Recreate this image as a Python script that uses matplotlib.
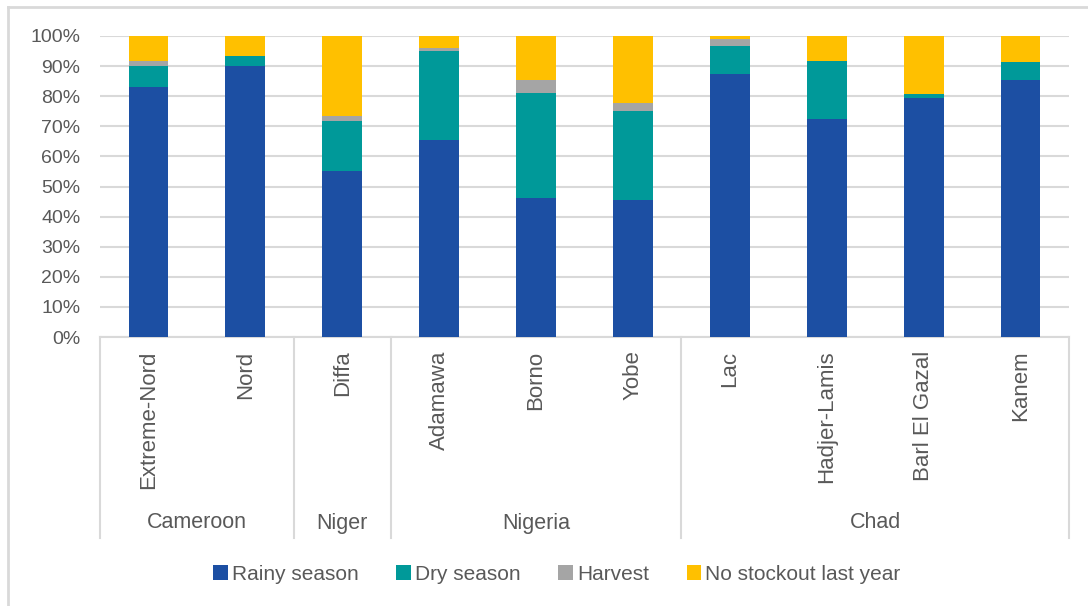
import matplotlib
matplotlib.use("Agg")
import matplotlib.pyplot as plt
from matplotlib.patches import Patch
from matplotlib.lines import Line2D
from matplotlib.ticker import PercentFormatter

plt.rcParams['font.family'] = ['Liberation Sans', 'DejaVu Sans']

regions = ["Extreme-Nord", "Nord", "Diffa", "Adamawa", "Borno", "Yobe",
           "Lac", "Hadjer-Lamis", "Barl El Gazal", "Kanem"]
countries = ["Cameroon", "Niger", "Nigeria", "Chad"]
country_sizes = [2, 1, 3, 4]

rainy = [83.0, 90.0, 55.1, 65.4, 46.2, 45.5, 87.5, 72.4, 79.4, 85.4]
dry = [7.0, 3.4, 16.7, 29.6, 34.9, 29.7, 9.2, 19.3, 1.4, 6.0]
harvest = [1.7, 0.0, 1.6, 1.1, 4.3, 2.6, 2.3, 0.0, 0.0, 0.0]
no_stockout = [8.3, 6.6, 26.6, 3.9, 14.6, 22.2, 1.0, 8.3, 19.2, 8.6]

series_names = ["Rainy season", "Dry season", "Harvest", "No stockout last year"]
colors = ["#1C4FA3", "#009999", "#A5A5A5", "#FFC000"]
text_color = "#595959"
grid_color = "#D9D9D9"

W, H = 1088, 606
fig = plt.figure(figsize=(W / 100, H / 100), dpi=100)
ax = fig.add_axes([100 / W, (H - 337) / H, (1069 - 100) / W, (337 - 36) / H])

x = list(range(len(regions)))
bottom = [0.0] * len(regions)
for vals, c in zip([rainy, dry, harvest, no_stockout], colors):
    frac = [v / 100 for v in vals]
    ax.bar(x, frac, bottom=bottom, width=0.41, color=c, zorder=3)
    bottom = [b + f for b, f in zip(bottom, frac)]

ax.set_xlim(-0.5, len(regions) - 0.5)
ax.set_ylim(0, 1)
ax.set_yticks([i / 10 for i in range(11)])
ax.yaxis.set_major_formatter(PercentFormatter(1.0, decimals=0))
ax.tick_params(axis='y', length=0, pad=14, labelsize=14, labelcolor=text_color)
ax.set_xticks([])
ax.grid(axis='y', color=grid_color, linewidth=1.5, zorder=0)
for s in ["left", "right", "top"]:
    ax.spines[s].set_visible(False)
ax.spines["bottom"].set_color(grid_color)
ax.spines["bottom"].set_linewidth(1.5)

tr = ax.get_xaxis_transform()
for i, name in enumerate(regions):
    ax.text(i, -0.045, name, rotation=90, ha='center', va='top', transform=tr,
            fontsize=16, color=text_color, clip_on=False)

box_bottom = (337 - 538) / 301
start = -0.5
bounds = [start]
for name, n in zip(countries, country_sizes):
    ax.text(start + n / 2, (337 - 523) / 301, name, ha='center', va='center',
            transform=tr, fontsize=15.5, color=text_color, clip_on=False)
    start += n
    bounds.append(start)
for b in bounds:
    ax.add_line(Line2D([b, b], [0, box_bottom], transform=tr, color=grid_color,
                       linewidth=1.5, clip_on=False))

handles = [Patch(facecolor=c, edgecolor='none') for c in colors]
fig.legend(handles, series_names, loc='center', bbox_to_anchor=(557 / W, 1 - 574 / H),
           ncol=4, frameon=False, fontsize=15, handlelength=0.7, handleheight=0.7,
           handletextpad=0.2, columnspacing=1.8, labelcolor=text_color)

# chart border
fig.add_artist(Line2D([8 / W, 8 / W], [0, 1 - 7 / H], transform=fig.transFigure,
                      color=grid_color, linewidth=2))
fig.add_artist(Line2D([8 / W, 1], [1 - 7 / H, 1 - 7 / H], transform=fig.transFigure,
                      color=grid_color, linewidth=2))

fig.savefig("out.png", dpi=100)
